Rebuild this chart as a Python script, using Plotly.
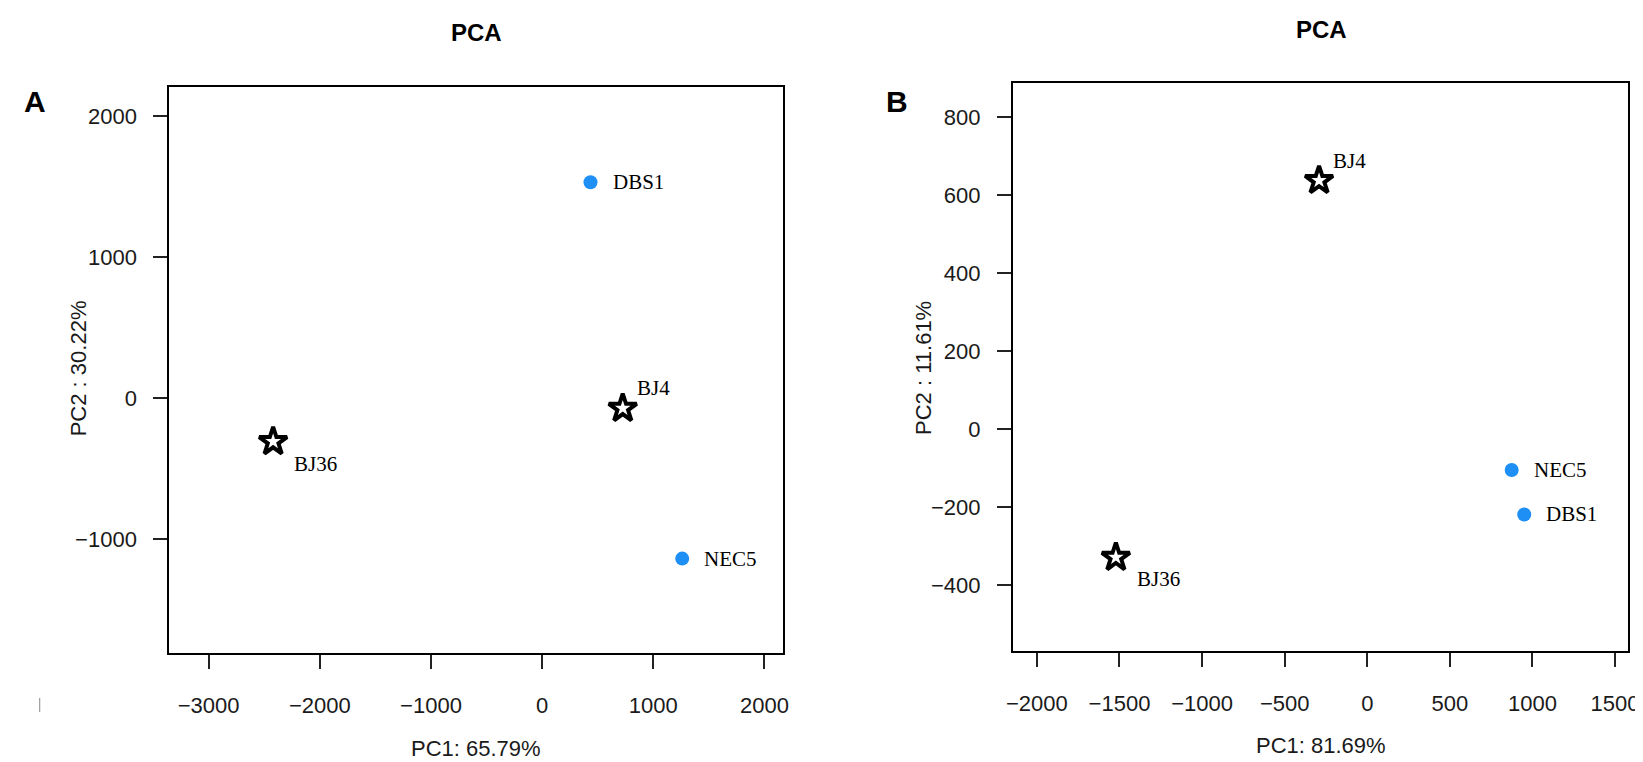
import plotly.graph_objects as go

# ---------------- data ----------------
samples_a = ["DBS1", "BJ4", "BJ36", "NEC5"]
pc1_a = [435, 725, -2420, 1260]
pc2_a = [1532, -73, -309, -1139]
group_a = ["circle", "star", "star", "circle"]

samples_b = ["BJ4", "NEC5", "DBS1", "BJ36"]
pc1_b = [-292, 874, 950, -1522]
pc2_b = [638, -104, -218, -328]
group_b = ["star", "circle", "circle", "star"]

xticks_a = [-3000, -2000, -1000, 0, 1000, 2000]
yticks_a = [-1000, 0, 1000, 2000]
xticks_b = [-2000, -1500, -1000, -500, 0, 500, 1000, 1500]
yticks_b = [-400, -200, 0, 200, 400, 600, 800]

xrange_a = [-3354, 2171]
yrange_a = [-1809, 2208]
xrange_b = [-2145, 1579]
yrange_b = [-568, 888]

xtitle_a = "PC1: 65.79%"
ytitle_a = "PC2 : 30.22%"
xtitle_b = "PC1: 81.69%"
ytitle_b = "PC2 : 11.61%"

BLUE = "#1E8FF5"
SANS = "Liberation Sans, Arial, sans-serif"
SERIF = "Liberation Serif, Times New Roman, serif"

fig = go.Figure()


def add_panel(xs, ys, names, groups, xref, yref):
    for g in ["circle", "star"]:
        idx = [i for i, gg in enumerate(groups) if gg == g]
        if g == "circle":
            marker = dict(symbol="circle", size=14, color=BLUE, line=dict(width=0))
        else:
            marker = dict(symbol="star-open", size=21, color="black",
                          line=dict(width=4, color="black"))
        fig.add_trace(go.Scatter(
            x=[xs[i] for i in idx], y=[ys[i] for i in idx],
            mode="markers", marker=marker, showlegend=False,
            xaxis=xref, yaxis=yref, hoverinfo="text",
            text=[names[i] for i in idx]))
    for i, n in enumerate(names):
        if groups[i] == "circle":
            xs_, ys_ = 20, 0
        elif n == "BJ4":
            xs_, ys_ = 12, 20
        else:
            xs_, ys_ = 19, -22
        fig.add_annotation(x=xs[i], y=ys[i], xref=xref, yref=yref, text=n,
                           showarrow=False, xanchor="left", yanchor="middle",
                           xshift=xs_, yshift=ys_,
                           font=dict(family=SERIF, size=21, color="black"))


add_panel(pc1_a, pc2_a, samples_a, group_a, "x", "y")
add_panel(pc1_b, pc2_b, samples_b, group_b, "x2", "y2")

axis_common = dict(showgrid=False, zeroline=False, showline=True, mirror=True,
                   linecolor="black", linewidth=2, ticks="outside", ticklen=14,
                   tickwidth=2, tickcolor="#222",
                   tickfont=dict(family=SANS, size=22, color="#1a1a1a"))

dom_ax = [156 / 1643, 777 / 1643]
dom_ay = [1 - 645 / 762, 1 - 79 / 762]
dom_bx = [1009 / 1643, 1631 / 1643]
dom_by = [1 - 643 / 762, 1 - 75 / 762]

fig.update_layout(
    width=1643, height=762,
    margin=dict(l=0, r=0, t=0, b=0),
    paper_bgcolor="white", plot_bgcolor="white",
    xaxis=dict(axis_common, domain=dom_ax, range=xrange_a, tickvals=xticks_a,
               ticklabelstandoff=18, anchor="y"),
    yaxis=dict(axis_common, domain=dom_ay, range=yrange_a, tickvals=yticks_a,
               ticklabelstandoff=12, anchor="x"),
    xaxis2=dict(axis_common, domain=dom_bx, range=xrange_b, tickvals=xticks_b,
                ticklabelstandoff=18, anchor="y2"),
    yaxis2=dict(axis_common, domain=dom_by, range=yrange_b, tickvals=yticks_b,
                ticklabelstandoff=12, anchor="x2"),
)

ann_font = dict(family=SANS, size=22, color="#1a1a1a")
# axis titles
fig.add_annotation(x=(dom_ax[0] + dom_ax[1]) / 2, y=1 - 740 / 762, xref="paper", yref="paper",
                   text=xtitle_a, showarrow=False, font=ann_font, xanchor="center", yanchor="middle")
fig.add_annotation(x=(dom_bx[0] + dom_bx[1]) / 2, y=1 - 737 / 762, xref="paper", yref="paper",
                   text=xtitle_b, showarrow=False, font=ann_font, xanchor="center", yanchor="middle")
fig.add_annotation(x=64 / 1643, y=1 - 360 / 762, xref="paper", yref="paper",
                   text=ytitle_a, showarrow=False, font=ann_font, textangle=-90,
                   xanchor="center", yanchor="middle")
fig.add_annotation(x=918 / 1643, y=1 - 360 / 762, xref="paper", yref="paper",
                   text=ytitle_b, showarrow=False, font=ann_font, textangle=-90,
                   xanchor="center", yanchor="middle")
# panel titles
fig.add_annotation(x=467 / 1643, y=1 - 25 / 762, xref="paper", yref="paper",
                   text="<b>PCA</b>", showarrow=False,
                   font=dict(family=SANS, size=24, color="black"), xanchor="center", yanchor="middle")
fig.add_annotation(x=1321 / 1643, y=1 - 22 / 762, xref="paper", yref="paper",
                   text="<b>PCA</b>", showarrow=False,
                   font=dict(family=SANS, size=24, color="black"), xanchor="center", yanchor="middle")
# panel letters
fig.add_annotation(x=20 / 1643, y=1 - 93 / 762, xref="paper", yref="paper",
                   text="<b>A</b>", showarrow=False,
                   font=dict(family=SANS, size=30, color="black"), xanchor="center", yanchor="middle")
fig.add_annotation(x=892 / 1643, y=1 - 93 / 762, xref="paper", yref="paper",
                   text="<b>B</b>", showarrow=False,
                   font=dict(family=SANS, size=30, color="black"), xanchor="center", yanchor="middle")

# small stray mark present in the original figure (lower-left corner)
fig.add_shape(type="line", xref="paper", yref="paper",
              x0=25 / 1643, x1=25 / 1643, y0=1 - 704 / 762, y1=1 - 690 / 762,
              line=dict(color="#888", width=1))

fig.write_html("out.html")
